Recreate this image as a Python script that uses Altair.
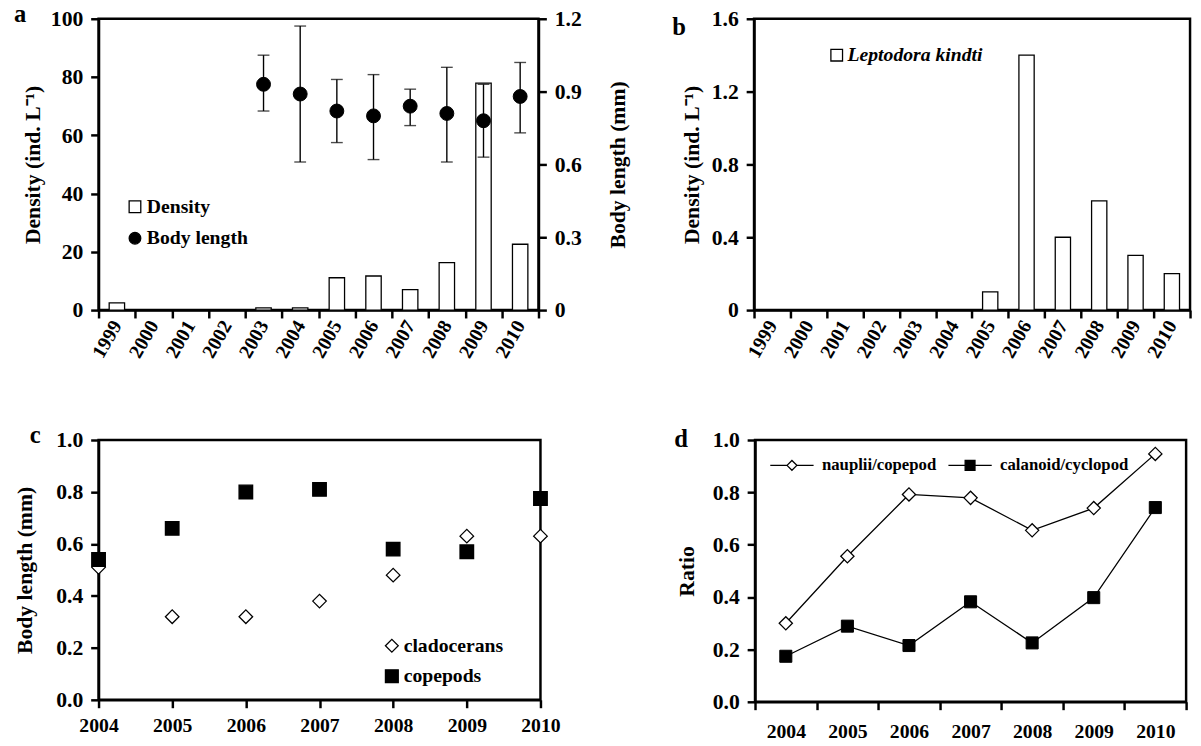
import altair as alt
import pandas as pd

FONT = "Liberation Serif"

# ---------------- data ----------------
years_a = ["1999", "2000", "2001", "2002", "2003", "2004", "2005", "2006", "2007", "2008", "2009", "2010"]
density_a = [2.5, 0, 0, 0, 0.8, 0.8, 11.1, 11.7, 7.0, 16.3, 77.9, 22.6]

bl_years = ["2003", "2004", "2005", "2006", "2007", "2008", "2009", "2010"]
bl_mean = [0.93, 0.89, 0.82, 0.80, 0.84, 0.81, 0.78, 0.88]
bl_low = [0.82, 0.61, 0.69, 0.62, 0.76, 0.61, 0.63, 0.73]
bl_high = [1.05, 1.17, 0.95, 0.97, 0.91, 1.00, 0.93, 1.02]

leptodora = [0, 0, 0, 0, 0, 0, 0.1, 1.4, 0.4, 0.6, 0.3, 0.2]

years_cd = ["2004", "2005", "2006", "2007", "2008", "2009", "2010"]
cladocerans = [0.51, 0.32, 0.32, 0.38, 0.48, 0.63, 0.63]
copepods = [0.54, 0.66, 0.80, 0.81, 0.58, 0.57, 0.775]
nauplii_copepod = [0.30, 0.556, 0.792, 0.779, 0.655, 0.74, 0.947]
calanoid_cyclopod = [0.174, 0.289, 0.215, 0.382, 0.225, 0.398, 0.742]

# ---------------- tables ----------------
df_a = pd.DataFrame({"year": years_a, "density": density_a})
df_bl = pd.DataFrame({"year": bl_years, "mean": bl_mean, "low": bl_low, "high": bl_high,
                      "series": ["Body length"] * len(bl_years)})
df_b = pd.DataFrame({"year": years_a, "density": leptodora, "species": ["Leptodora kindti"] * len(years_a)})
df_c = pd.DataFrame({
    "year": years_cd * 2,
    "length": cladocerans + copepods,
    "group": ["cladocerans"] * len(years_cd) + ["copepods"] * len(years_cd),
})
df_d = pd.DataFrame({
    "year": years_cd * 2,
    "ratio": nauplii_copepod + calanoid_cyclopod,
    "series": ["nauplii/copepod"] * len(years_cd) + ["calanoid/cyclopod"] * len(years_cd),
})


def letter(t, dx, dy):
    return alt.Chart(pd.DataFrame({"t": [t]})).mark_text(
        font=FONT, fontSize=25, fontWeight="bold", align="left", baseline="alphabetic", color="black"
    ).encode(text="t:N", x=alt.value(dx), y=alt.value(dy))


year_axis_rot = alt.Axis(title=None, labelAngle=-60, labelAlign="right", labelBaseline="middle",
                         tickBand="extent", labelFontSize=20, labelPadding=4)
band = alt.Scale(type="band", domain=years_a, paddingInner=0, paddingOuter=0)

# ---------------- panel a ----------------
bars_a = alt.Chart(df_a).mark_bar(fill="white", stroke="black", strokeWidth=1.3,
                                  width=alt.RelativeBandSize(0.42)).encode(
    x=alt.X("year:O", scale=band, axis=year_axis_rot),
    y=alt.Y("density:Q", scale=alt.Scale(domain=[0, 100], nice=False),
            axis=alt.Axis(title="Density (ind. L⁻¹)", values=[0, 20, 40, 60, 80, 100], orient="left",
                          titlePadding=6)),
)

bl_y = alt.Scale(domain=[0, 1.2], nice=False)
rule_a = alt.Chart(df_bl).mark_rule(color="black", strokeWidth=1.4).encode(
    x=alt.X("year:O", bandPosition=0.5),
    y=alt.Y("low:Q", scale=bl_y,
            axis=alt.Axis(orient="right", title="Body length (mm)", values=[0, 0.3, 0.6, 0.9, 1.2],
                          labelExpr="datum.value == 0 ? '0' : format(datum.value, '.1f')",
                          titleAngle=270, titleBaseline="top", titlePadding=27)),
    y2="high:Q",
)
cap_lo = alt.Chart(df_bl).mark_tick(color="black", thickness=1.4, size=12).encode(
    x=alt.X("year:O", bandPosition=0.5), y=alt.Y("low:Q", scale=bl_y))
cap_hi = alt.Chart(df_bl).mark_tick(color="black", thickness=1.4, size=12).encode(
    x=alt.X("year:O", bandPosition=0.5), y=alt.Y("high:Q", scale=bl_y))
legend_a = alt.Legend(title=None, orient="none", legendX=27, legendY=181, symbolSize=140,
                      symbolStrokeColor="black", symbolStrokeWidth=1.3, labelOffset=2, rowPadding=12)
dom_a = ["Density", "Body length"]
pts_a = alt.Chart(df_bl).mark_point(filled=True, size=200, stroke="black", strokeWidth=1, opacity=1).encode(
    x=alt.X("year:O", bandPosition=0.5),
    y=alt.Y("mean:Q", scale=bl_y),
    shape=alt.Shape("series:N", scale=alt.Scale(domain=dom_a, range=["square", "circle"]), legend=legend_a),
    fill=alt.Fill("series:N", scale=alt.Scale(domain=dom_a, range=["white", "black"]), legend=legend_a),
    stroke=alt.Stroke("series:N", scale=alt.Scale(domain=dom_a, range=["black", "black"]), legend=legend_a),
)
panel_a = alt.layer(
    bars_a,
    alt.layer(rule_a, cap_lo, cap_hi, pts_a),
    letter("a", -86, 3),
).resolve_scale(y="independent").properties(width=447, height=296)

# ---------------- panel b ----------------
bars_b = alt.Chart(df_b).mark_bar(stroke="black", strokeWidth=1.3, width=alt.RelativeBandSize(0.42)).encode(
    x=alt.X("year:O", scale=band, axis=year_axis_rot),
    y=alt.Y("density:Q", scale=alt.Scale(domain=[0, 1.6], nice=False),
            axis=alt.Axis(title="Density (ind. L⁻¹)", values=[0, 0.4, 0.8, 1.2, 1.6],
                          labelExpr="datum.value == 0 ? '0' : format(datum.value, '.1f')", titlePadding=8)),
    fill=alt.Fill("species:N", scale=alt.Scale(range=["white"]),
                  legend=alt.Legend(title=None, orient="none", legendX=74, legendY=27, symbolType="square",
                                    symbolSize=140, symbolStrokeColor="black", symbolStrokeWidth=1.3,
                                    labelFontStyle="italic", labelOffset=1)),
)
panel_b = alt.layer(bars_b, letter("b", -83, 16)).properties(width=443, height=296)

# ---------------- panel c ----------------
legend_c = alt.Legend(title=None, orient="none", legendX=288, legendY=199, symbolSize=170,
                      symbolStrokeColor="black", symbolStrokeWidth=1.3, labelOffset=2, rowPadding=11)
dom_c = ["cladocerans", "copepods"]
pts_c = alt.Chart(df_c).mark_point(filled=True, size=190, strokeWidth=1.3, opacity=1).encode(
    x=alt.X("year:O", scale=alt.Scale(type="point", padding=0),
            axis=alt.Axis(title=None, labelAngle=0, labelPadding=8, labelFontSize=20)),
    y=alt.Y("length:Q", scale=alt.Scale(domain=[0, 1], nice=False),
            axis=alt.Axis(title="Body length (mm)", values=[0, 0.2, 0.4, 0.6, 0.8, 1.0], format=".1f",
                          titlePadding=20)),
    shape=alt.Shape("group:N", scale=alt.Scale(domain=dom_c, range=["diamond", "square"]), legend=legend_c),
    fill=alt.Fill("group:N", scale=alt.Scale(domain=dom_c, range=["white", "black"]), legend=legend_c),
    stroke=alt.Stroke("group:N", scale=alt.Scale(domain=dom_c, range=["black", "black"]), legend=legend_c),
)
panel_c = alt.layer(pts_c, letter("c", -70, 3)).properties(width=449, height=264)

# ---------------- panel d ----------------
band_d = alt.Scale(type="band", domain=years_cd, paddingInner=0, paddingOuter=0)
y_d = alt.Scale(domain=[0, 1], nice=False)
lines_d = alt.Chart(df_d).mark_line(color="black", strokeWidth=1.3).encode(
    x=alt.X("year:O", scale=band_d, bandPosition=0.5,
            axis=alt.Axis(title=None, labelAngle=0, tickBand="extent", labelPadding=12, labelFontSize=20)),
    y=alt.Y("ratio:Q", scale=y_d,
            axis=alt.Axis(title="Ratio", values=[0, 0.2, 0.4, 0.6, 0.8, 1.0], format=".1f", titlePadding=14)),
    detail="series:N",
)
pts_n = alt.Chart(df_d).transform_filter(alt.datum.series == "nauplii/copepod").mark_point(
    shape="diamond", filled=True, fill="white", stroke="black", strokeWidth=1.3, size=180, opacity=1).encode(
    x=alt.X("year:O", bandPosition=0.5), y=alt.Y("ratio:Q", scale=y_d))
pts_k = alt.Chart(df_d).transform_filter(alt.datum.series == "calanoid/cyclopod").mark_point(
    shape="square", filled=True, fill="black", stroke="black", strokeWidth=1, size=150, opacity=1).encode(
    x=alt.X("year:O", bandPosition=0.5), y=alt.Y("ratio:Q", scale=y_d))
# legend symbols: marker with a short line through it (custom SVG paths)
diamond_line = "M-4.4,0L-1,0M1,0L4.4,0M-1,0L0,-1L1,0L0,1Z"
square_line = "M-4.4,0L4.4,0M-1,-1L1,-1L1,1L-1,1Z"
dom_d = ["nauplii/copepod", "calanoid/cyclopod"]
legend_d = alt.Legend(title=None, orient="none", direction="horizontal", legendX=29, legendY=17,
                      symbolSize=100, symbolStrokeColor="black", symbolStrokeWidth=1.3, labelOffset=22,
                      columnPadding=8, labelFontSize=17)
legend_layer_d = alt.Chart(df_d).transform_filter("false").mark_point(
    filled=True, strokeWidth=1.3, opacity=1).encode(
    x=alt.X("year:O", bandPosition=0.5), y=alt.Y("ratio:Q", scale=y_d),
    shape=alt.Shape("series:N", scale=alt.Scale(domain=dom_d, range=[diamond_line, square_line]), legend=legend_d),
    fill=alt.Fill("series:N", scale=alt.Scale(domain=dom_d, range=["white", "black"]), legend=legend_d),
    stroke=alt.Stroke("series:N", scale=alt.Scale(domain=dom_d, range=["black", "black"]), legend=legend_d),
)
panel_d = alt.layer(lines_d, pts_n, pts_k, legend_layer_d, letter("d", -82, 7)).properties(width=438, height=266)

# ---------------- layout ----------------
indep = dict(shape="independent", fill="independent", stroke="independent")
row1 = alt.hconcat(panel_a, panel_b, spacing=41).resolve_scale(**indep).resolve_legend(**indep)
row2 = alt.hconcat(panel_c, panel_d, spacing=112).resolve_scale(**indep).resolve_legend(**indep)
chart = alt.vconcat(row1, row2, spacing=60).resolve_scale(**indep).resolve_legend(**indep).properties(
    padding={"left": 4, "top": -14, "right": 0, "bottom": 0}
).configure(
    font=FONT,
).configure_view(
    stroke="black", strokeWidth=2.5,
).configure_axis(
    domainColor="black", domainWidth=2.5, tickColor="black", tickWidth=2.5, tickSize=8,
    labelFont=FONT, labelFontSize=22, labelFontWeight="bold", labelColor="black", labelPadding=8,
    titleFont=FONT, titleFontSize=22, titleFontWeight="bold", titleColor="black", grid=False,
).configure_legend(
    labelFont=FONT, labelFontSize=20, labelFontWeight="bold", labelColor="black", padding=0,
    labelLimit=400,
)

chart.save("out.html", embed_options={"renderer": "svg", "actions": False})
